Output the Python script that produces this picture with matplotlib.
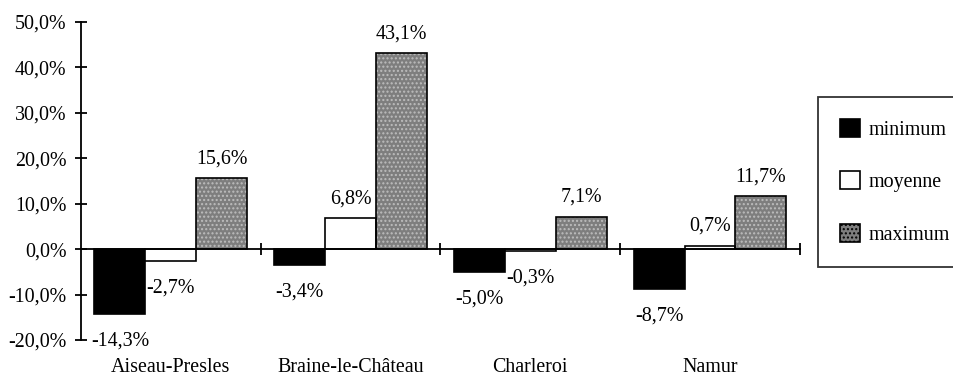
import matplotlib
matplotlib.use("Agg")
import matplotlib.pyplot as plt
import numpy as np
from matplotlib.patches import Patch

plt.rcParams['font.family'] = ['Liberation Serif', 'DejaVu Serif']
plt.rcParams['hatch.linewidth'] = 1.0

communes = ["Aiseau-Presles", "Braine-le-Château", "Charleroi", "Namur"]
series_names = ["minimum", "moyenne", "maximum"]
minimum = [-14.3, -3.4, -5.0, -8.7]
moyenne = [-2.7, 6.8, -0.3, 0.7]
maximum = [15.6, 43.1, 7.1, 11.7]
y_ticks = [-20, -10, 0, 10, 20, 30, 40, 50]

FS = 14.4
fig = plt.figure(figsize=(9.54, 3.78), dpi=100)
ax = fig.add_axes([81 / 954, 38 / 378, 719 / 954, 318 / 378])

n = len(communes)
bar_w = 0.283
start = 0.075
faces = ["black", "white", "#7e7e7e"]
values = [minimum, moyenne, maximum]

for k, (vals, face) in enumerate(zip(values, faces)):
    x = np.arange(n) + start + bar_w * (k + 0.5)
    if k == 2:
        # dotted texture under a dark outline
        ax.bar(x, vals, width=bar_w, color=face, edgecolor="#bdbdbd",
               hatch="....", linewidth=0, zorder=2)
        ax.bar(x, vals, width=bar_w, facecolor="none", edgecolor="black",
               linewidth=1.2, zorder=3)
    else:
        ax.bar(x, vals, width=bar_w, color=face, edgecolor="black",
               linewidth=1.2, zorder=3)
    for xi, v in zip(x, vals):
        label = f"{v:.1f}%".replace(".", ",")
        off = 14 if v >= 0 else -19.5
        ax.annotate(label, (xi, v), xytext=(0, off), textcoords="offset points",
                    ha="center", va="center", fontsize=FS)

ax.set_xlim(0, n)
ax.set_ylim(-20, 50)
ax.set_yticks(y_ticks)
ax.set_yticklabels([f"{t:.1f}%".replace(".", ",") for t in y_ticks], fontsize=FS)
ax.set_xticks(np.arange(1, n + 1))
ax.set_xticklabels([])

for s in ["top", "right"]:
    ax.spines[s].set_visible(False)
ax.spines["bottom"].set_position(("data", 0))
ax.spines["bottom"].set_zorder(4)
for s in ["left", "bottom"]:
    ax.spines[s].set_linewidth(1.3)
ax.tick_params(axis="both", direction="inout", length=9, width=1.3, pad=4)
ax.tick_params(axis="y", pad=6)
ax.set_facecolor("none")

for i, name in enumerate(communes):
    ax.text(i + 0.5, -0.088, name, transform=ax.get_xaxis_transform(),
            ha="center", va="center", fontsize=FS)

handles = [
    Patch(facecolor="black", edgecolor="black", linewidth=1.2),
    Patch(facecolor="white", edgecolor="black", linewidth=1.2),
    Patch(facecolor="#7e7e7e", edgecolor="black", hatch="....", linewidth=1.2),
]
leg = fig.legend(handles, series_names, loc="upper left",
                 bbox_to_anchor=(818 / 954, 1 - 97 / 378), fontsize=FS,
                 frameon=True, fancybox=False, borderpad=1.1,
                 labelspacing=1.58, handlelength=1.0, handleheight=1.0,
                 handletextpad=0.45, borderaxespad=0)
leg.get_frame().set_edgecolor("black")
leg.get_frame().set_linewidth(1.3)

fig.savefig("out.png", dpi=100)
